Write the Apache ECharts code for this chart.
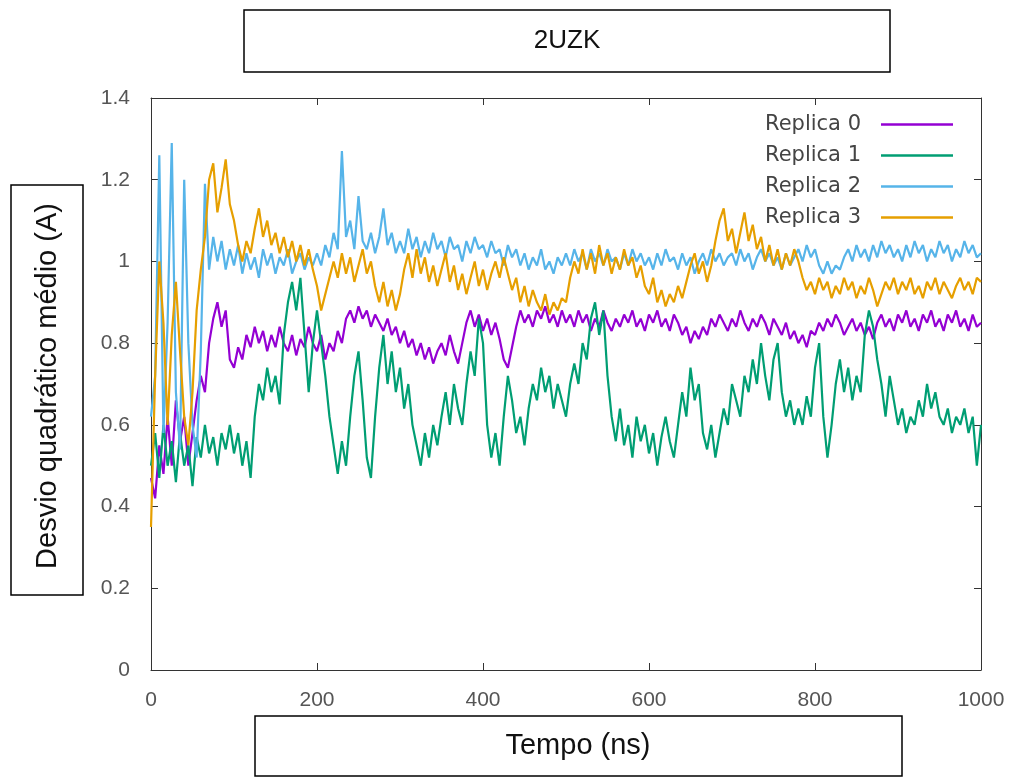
<!DOCTYPE html>
<html>
<head>
<meta charset="utf-8">
<script src="https://cdn.jsdelivr.net/npm/echarts@6/dist/echarts.min.js"></script>
<style>
html,body{margin:0;padding:0;background:#fff;}
#chart{width:1015px;height:778px;}
</style>
</head>
<body>
<div id="chart"></div>
<script>
// ---- data (RMSD, sampled every 5 ns from 0 to 1000 ns) ----
const TITLE = "2UZK";
const X_NAME = "Tempo (ns)";
const Y_NAME = "Desvio quadrático médio (A)";
const SERIES_NAMES = ["Replica 0", "Replica 1", "Replica 2", "Replica 3"];
const X_TICKS = [0, 200, 400, 600, 800, 1000];
const Y_TICKS = [0, 0.2, 0.4, 0.6, 0.8, 1, 1.2, 1.4];
const STEP_NS = 5;

const replica0 = [
 0.47,0.42,0.55,0.48,0.62,0.50,0.66,0.56,0.62,0.50,0.58,0.66,0.72,0.68,0.80,0.86,0.90,0.84,0.88,0.76,
 0.74,0.79,0.76,0.82,0.79,0.84,0.80,0.83,0.78,0.82,0.79,0.84,0.80,0.78,0.82,0.77,0.81,0.79,0.84,0.80,
 0.78,0.82,0.76,0.80,0.78,0.83,0.80,0.86,0.88,0.85,0.89,0.86,0.88,0.84,0.87,0.85,0.83,0.86,0.82,0.84,
 0.80,0.83,0.79,0.81,0.77,0.80,0.76,0.79,0.75,0.78,0.80,0.77,0.82,0.78,0.75,0.80,0.85,0.88,0.84,0.87,
 0.83,0.86,0.82,0.85,0.81,0.76,0.74,0.79,0.84,0.88,0.85,0.87,0.84,0.88,0.86,0.89,0.85,0.87,0.84,0.88,
 0.85,0.87,0.84,0.88,0.85,0.87,0.83,0.86,0.84,0.88,0.85,0.83,0.86,0.84,0.87,0.85,0.88,0.84,0.86,0.83,
 0.87,0.85,0.88,0.84,0.86,0.83,0.87,0.85,0.82,0.84,0.80,0.83,0.81,0.84,0.82,0.86,0.84,0.87,0.85,0.83,
 0.86,0.84,0.88,0.85,0.83,0.86,0.84,0.87,0.85,0.82,0.86,0.84,0.82,0.85,0.81,0.83,0.80,0.82,0.79,0.83,
 0.82,0.85,0.83,0.86,0.84,0.87,0.85,0.82,0.84,0.86,0.83,0.85,0.82,0.84,0.81,0.85,0.87,0.84,0.86,0.83,
 0.87,0.85,0.88,0.84,0.86,0.83,0.87,0.85,0.88,0.84,0.86,0.83,0.87,0.85,0.88,0.84,0.86,0.83,0.87,0.84,
 0.85
];
const replica1 = [
 0.50,0.58,0.47,0.60,0.50,0.56,0.46,0.58,0.50,0.55,0.45,0.57,0.52,0.60,0.53,0.57,0.50,0.58,0.54,0.60,
 0.53,0.58,0.50,0.56,0.47,0.62,0.70,0.66,0.74,0.68,0.72,0.65,0.82,0.90,0.95,0.88,0.96,0.82,0.68,0.80,
 0.88,0.80,0.72,0.62,0.55,0.48,0.56,0.50,0.62,0.72,0.78,0.66,0.52,0.47,0.62,0.74,0.82,0.70,0.78,0.68,
 0.74,0.64,0.70,0.60,0.55,0.50,0.58,0.52,0.60,0.55,0.62,0.68,0.60,0.70,0.64,0.60,0.70,0.78,0.72,0.86,
 0.80,0.60,0.52,0.58,0.50,0.62,0.72,0.66,0.58,0.62,0.55,0.64,0.70,0.66,0.74,0.68,0.72,0.64,0.70,0.66,
 0.62,0.70,0.75,0.70,0.80,0.76,0.86,0.90,0.82,0.88,0.72,0.62,0.56,0.64,0.55,0.60,0.52,0.62,0.56,0.60,
 0.53,0.58,0.50,0.57,0.62,0.56,0.52,0.60,0.68,0.62,0.74,0.66,0.70,0.58,0.54,0.60,0.52,0.58,0.64,0.60,
 0.70,0.66,0.62,0.72,0.68,0.76,0.70,0.80,0.72,0.66,0.76,0.80,0.68,0.62,0.66,0.60,0.64,0.60,0.67,0.62,
 0.74,0.80,0.62,0.52,0.60,0.70,0.76,0.68,0.74,0.66,0.72,0.68,0.82,0.88,0.84,0.76,0.70,0.62,0.72,0.66,
 0.60,0.64,0.58,0.62,0.60,0.66,0.62,0.70,0.64,0.68,0.62,0.60,0.64,0.58,0.62,0.60,0.64,0.58,0.62,0.50,
 0.60
];
const replica2 = [
 0.62,0.72,1.26,0.58,0.85,1.29,0.68,0.54,1.20,0.80,0.60,0.52,0.78,1.19,0.98,1.06,1.00,1.05,0.98,1.03,
 0.99,1.04,0.97,1.02,0.98,1.01,0.96,1.03,0.99,1.02,0.97,1.01,0.99,1.03,0.97,1.00,1.02,0.98,1.01,0.99,
 1.02,0.99,1.04,1.01,1.07,1.03,1.27,1.06,1.10,1.03,1.16,1.05,1.03,1.07,1.02,1.06,1.13,1.04,1.07,1.02,
 1.05,1.02,1.08,1.03,1.06,1.01,1.05,1.02,1.07,1.03,1.05,1.01,1.06,1.03,1.04,1.00,1.05,1.02,1.06,1.03,
 1.04,1.01,1.05,1.02,1.03,0.99,1.04,1.01,1.03,0.99,1.02,0.98,1.01,0.99,1.03,0.98,1.00,0.97,1.01,0.99,
 1.02,0.99,1.03,1.00,1.02,0.98,1.03,1.00,1.02,0.99,1.03,1.00,1.01,0.98,1.02,0.99,1.03,1.00,1.02,0.99,
 1.01,0.98,1.02,0.99,1.03,1.00,1.01,0.98,1.02,0.99,1.01,0.97,1.00,1.02,0.99,1.03,1.00,1.02,0.99,1.01,
 1.02,0.99,1.03,1.00,1.02,0.98,1.01,1.03,1.00,1.02,0.99,1.01,0.98,1.02,0.99,1.01,1.03,1.00,1.04,1.01,
 1.03,0.99,0.97,1.00,0.97,0.99,0.98,1.01,1.03,1.00,1.04,1.01,1.03,1.00,1.04,1.01,1.05,1.02,1.04,1.01,
 1.03,1.00,1.04,1.01,1.05,1.02,1.04,1.00,1.03,1.01,1.05,1.02,1.04,1.00,1.03,1.01,1.05,1.02,1.04,1.01,
 1.02
];
const replica3 = [
 0.35,0.72,1.00,0.85,0.60,0.82,0.95,0.78,0.62,0.55,0.68,0.88,0.98,1.06,1.20,1.24,1.12,1.18,1.25,1.14,
 1.10,1.04,1.00,1.05,1.02,1.08,1.13,1.06,1.10,1.04,1.07,1.02,1.06,1.01,1.05,1.00,1.04,0.99,1.03,0.98,
 0.94,0.88,0.92,0.96,1.00,0.96,1.02,0.97,1.01,0.95,0.99,1.03,0.97,1.00,0.94,0.90,0.95,0.89,0.93,0.88,
 0.92,0.98,1.02,0.96,1.03,0.97,1.01,0.95,0.99,0.94,0.98,1.02,0.95,0.99,0.93,0.97,0.92,0.96,1.00,0.94,
 0.98,0.93,0.97,1.00,0.96,1.01,0.97,0.93,0.96,0.90,0.94,0.89,0.93,0.90,0.88,0.92,0.87,0.90,0.88,0.91,
 0.90,0.96,1.00,0.97,1.03,0.98,1.02,0.97,1.04,0.99,1.02,0.97,1.01,0.98,1.03,0.99,1.01,0.96,0.99,0.94,
 0.92,0.96,0.90,0.93,0.89,0.92,0.90,0.94,0.91,0.95,0.99,1.02,0.97,1.00,0.95,0.99,1.05,1.10,1.13,1.05,
 1.08,1.02,1.07,1.12,1.05,1.09,1.03,1.06,1.00,1.04,0.99,1.03,0.98,1.02,0.99,1.03,1.00,0.96,0.93,0.95,
 0.92,0.96,0.93,0.95,0.91,0.94,0.92,0.96,0.93,0.95,0.91,0.94,0.92,0.96,0.93,0.89,0.92,0.95,0.93,0.96,
 0.92,0.95,0.93,0.96,0.92,0.94,0.91,0.95,0.93,0.96,0.92,0.95,0.93,0.91,0.94,0.96,0.93,0.95,0.92,0.96,
 0.95
];
const SERIES_VALUES = [replica0, replica1, replica2, replica3];
const COLORS = ["#9400d3", "#009e73", "#56b4e9", "#e69f00"];

// ---- chart ----
const chart = echarts.init(document.getElementById('chart'), null, {renderer: 'canvas'});
const LABEL_FONT = "'Liberation Sans',Arial,sans-serif";
const LEGEND_FONT = "'DejaVu Sans','Liberation Sans',sans-serif";

function toPairs(vals) { return vals.map((v, i) => [i * STEP_NS, v]); }

const series = SERIES_NAMES.map((name, k) => ({
  name: name,
  type: 'line',
  data: toPairs(SERIES_VALUES[k]),
  showSymbol: false,
  symbol: 'none',
  sampling: null,
  lineStyle: {color: COLORS[k], width: 2.2},
  itemStyle: {color: COLORS[k]},
  animation: false,
  z: 2 + k
}));

const tickStyle = {show: true, inside: true, length: 7, lineStyle: {color: '#333', width: 1}};

const option = {
  backgroundColor: '#ffffff',
  animation: false,
  grid: {left: 151, right: 34, top: 98, bottom: 108, show: false, containLabel: false},
  legend: {
    data: SERIES_NAMES, orient: 'vertical', right: 57, top: 109, align: 'right',
    icon: 'rect', itemWidth: 72, itemHeight: 2.5, itemGap: 10,
    formatter: '{t|{name}}',
    textStyle: {fontFamily: LEGEND_FONT, fontSize: 21, color: '#444',
      rich: {t: {fontFamily: LEGEND_FONT, fontSize: 21, color: '#444', lineHeight: 20, padding: [0, 15, 0, 0]}}},
    selectedMode: false
  },
  xAxis: [{
    type: 'value', min: X_TICKS[0], max: X_TICKS[X_TICKS.length - 1], interval: 200,
    axisLine: {show: true, onZero: false, lineStyle: {color: '#333', width: 1}}, splitLine: {show: false},
    axisTick: tickStyle,
    axisLabel: {margin: 20, fontFamily: LABEL_FONT, fontSize: 21, color: '#555', formatter: v => String(v)}
  }, {
    type: 'value', position: 'top', min: X_TICKS[0], max: X_TICKS[X_TICKS.length - 1], interval: 200,
    axisLine: {show: true, onZero: false, lineStyle: {color: '#333', width: 1}}, splitLine: {show: false},
    axisTick: tickStyle,
    axisLabel: {show: false}
  }],
  yAxis: [{
    type: 'value', min: Y_TICKS[0], max: Y_TICKS[Y_TICKS.length - 1], interval: 0.2,
    axisLine: {show: true, onZero: false, lineStyle: {color: '#333', width: 1}}, splitLine: {show: false},
    axisTick: tickStyle,
    axisLabel: {margin: 21, fontFamily: LABEL_FONT, fontSize: 21, color: '#555',
      formatter: v => String(Math.round(v * 10) / 10)}
  }, {
    type: 'value', position: 'right', min: Y_TICKS[0], max: Y_TICKS[Y_TICKS.length - 1], interval: 0.2,
    axisLine: {show: true, onZero: false, lineStyle: {color: '#333', width: 1}}, splitLine: {show: false},
    axisTick: tickStyle,
    axisLabel: {show: false}
  }],
  series: series,
  graphic: [
    {type: 'rect', shape: {x: 244, y: 10, width: 646, height: 62}, style: {fill: '#fff', stroke: '#000', lineWidth: 1.5}, z: 10},
    {type: 'text', x: 567, y: 41, style: {text: TITLE, align: 'center', verticalAlign: 'middle', fontFamily: LABEL_FONT, fontSize: 26, fill: '#111'}, z: 11},
    {type: 'rect', shape: {x: 11, y: 185, width: 72, height: 410}, style: {fill: '#fff', stroke: '#000', lineWidth: 1.5}, z: 10},
    {type: 'text', x: 48, y: 386, rotation: Math.PI / 2, style: {text: Y_NAME, align: 'center', verticalAlign: 'middle', fontFamily: LABEL_FONT, fontSize: 29, fill: '#111'}, z: 11},
    {type: 'rect', shape: {x: 255, y: 716, width: 647, height: 60}, style: {fill: '#fff', stroke: '#000', lineWidth: 1.5}, z: 10},
    {type: 'text', x: 578, y: 746, style: {text: X_NAME, align: 'center', verticalAlign: 'middle', fontFamily: LABEL_FONT, fontSize: 29, fill: '#111'}, z: 11}
  ]
};
chart.setOption(option);
</script>
</body>
</html>
